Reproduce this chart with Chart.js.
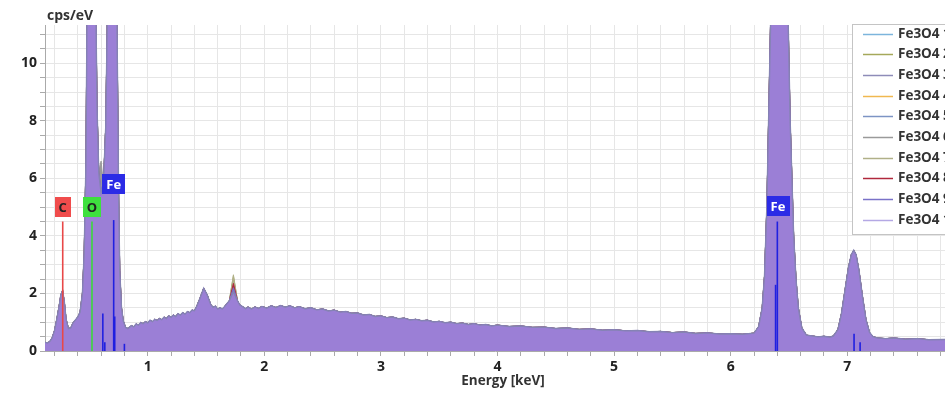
<!DOCTYPE html>
<html>
<head>
<meta charset="utf-8">
<script src="https://cdn.jsdelivr.net/npm/chart.js@4"></script>
<style>
  html, body { margin: 0; padding: 0; background: #fff; overflow: hidden; }
  #wrap { position: relative; width: 945px; height: 395px; }
</style>
</head>
<body>
<div id="wrap"><canvas id="edsChart" width="945" height="395"></canvas></div>
<script>
'use strict';

// data

// purple spectrum (top layer), [energy keV, cps/eV]
const spectrum = [
  [0.119, 0.30], [0.14, 0.28], [0.16, 0.33], [0.18, 0.45], [0.20, 0.70], [0.22, 1.10],
  [0.24, 1.55], [0.255, 1.95], [0.27, 2.10], [0.285, 1.70], [0.30, 1.10], [0.32, 0.78],
  [0.34, 0.80], [0.36, 0.98], [0.38, 1.08], [0.40, 1.18], [0.42, 1.35], [0.44, 2.00],
  [0.455, 3.40], [0.47, 6.50], [0.48, 12], [0.555, 12], [0.565, 8.5], [0.58, 6.2],
  [0.60, 5.5], [0.62, 5.8], [0.64, 7.8], [0.655, 12], [0.735, 12], [0.75, 5.5],
  [0.76, 2.8], [0.775, 1.5], [0.79, 1.05], [0.81, 0.82], [0.83, 0.78], [0.86, 0.88],
  [0.88, 0.84], [0.90, 0.94], [0.92, 0.90], [0.94, 0.99], [0.96, 0.95], [0.98, 1.02],
  [1.00, 0.98], [1.02, 1.07], [1.04, 1.02], [1.06, 1.10], [1.08, 1.06], [1.10, 1.13],
  [1.12, 1.09], [1.14, 1.18], [1.16, 1.13], [1.18, 1.22], [1.20, 1.17], [1.22, 1.25],
  [1.24, 1.20], [1.26, 1.30], [1.28, 1.25], [1.30, 1.33], [1.32, 1.28], [1.34, 1.37],
  [1.36, 1.33], [1.38, 1.42], [1.40, 1.40], [1.42, 1.55], [1.45, 1.85], [1.48, 2.18],
  [1.51, 1.95], [1.54, 1.62], [1.56, 1.52], [1.58, 1.56], [1.60, 1.46], [1.62, 1.50],
  [1.64, 1.46], [1.66, 1.55], [1.70, 1.75], [1.735, 2.05], [1.77, 1.75], [1.79, 1.60],
  [1.81, 1.55], [1.84, 1.47], [1.86, 1.53], [1.89, 1.46], [1.92, 1.53], [1.95, 1.48],
  [1.98, 1.55], [2.02, 1.49], [2.06, 1.57], [2.1, 1.51], [2.14, 1.58], [2.18, 1.52],
  [2.22, 1.57], [2.26, 1.50], [2.3, 1.54], [2.35, 1.47], [2.4, 1.50], [2.45, 1.43],
  [2.5, 1.46], [2.55, 1.39], [2.6, 1.42], [2.65, 1.35], [2.7, 1.37], [2.75, 1.31],
  [2.8, 1.32], [2.85, 1.25], [2.9, 1.27], [2.95, 1.20], [3.0, 1.22], [3.05, 1.16],
  [3.1, 1.18], [3.15, 1.12], [3.2, 1.14], [3.25, 1.08], [3.3, 1.10], [3.35, 1.05],
  [3.4, 1.07], [3.45, 1.01], [3.5, 1.03], [3.55, 0.98], [3.6, 1.00], [3.65, 0.95],
  [3.7, 0.97], [3.75, 0.92], [3.8, 0.95], [3.85, 0.90], [3.9, 0.92], [3.95, 0.87],
  [4.0, 0.90], [4.1, 0.85], [4.2, 0.87], [4.3, 0.82], [4.4, 0.83], [4.5, 0.78],
  [4.6, 0.80], [4.7, 0.75], [4.8, 0.77], [4.9, 0.72], [5.0, 0.74], [5.1, 0.70],
  [5.2, 0.71], [5.3, 0.67], [5.4, 0.68], [5.5, 0.64], [5.6, 0.66], [5.7, 0.61],
  [5.8, 0.63], [5.9, 0.59], [6.0, 0.60], [6.1, 0.58], [6.2, 0.62],
  [6.24, 0.85], [6.27, 1.5], [6.29, 2.6], [6.31, 5.0], [6.33, 9.0], [6.345, 12],
  [6.49, 12], [6.51, 8.0], [6.54, 4.0], [6.56, 2.5], [6.58, 1.5], [6.61, 0.8],
  [6.65, 0.55], [6.7, 0.52], [6.75, 0.49], [6.8, 0.51], [6.85, 0.48], [6.88, 0.52],
  [6.92, 0.75], [6.95, 1.3], [6.98, 2.1], [7.01, 2.9], [7.035, 3.35], [7.055, 3.50],
  [7.075, 3.35], [7.10, 2.8], [7.13, 1.9], [7.16, 1.1], [7.19, 0.65], [7.22, 0.50],
  [7.26, 0.45], [7.33, 0.43], [7.4, 0.45], [7.5, 0.41], [7.6, 0.43], [7.7, 0.39],
  [7.838, 0.40]
];

// where the ten spectra differ from each other
const seriesNames = ['Fe3O4 1', 'Fe3O4 2', 'Fe3O4 3', 'Fe3O4 4', 'Fe3O4 5',
  'Fe3O4 6', 'Fe3O4 7', 'Fe3O4 8', 'Fe3O4 9', 'Fe3O4 10'];
const seriesColors = ['#7cb5dc', '#a5a85a', '#8e8cb8', '#f0b850', '#7d94c4',
  '#9a9a9a', '#b0b088', '#b0283c', '#7a72c8', '#9b80d8'];
const peak1735 = [2.45, 2.60, 2.30, 1.95, 2.25, 2.50, 2.65, 2.35, 2.20, 2.05];
const valley060 = [5.5, 5.6, 5.5, 5.7, 5.6, 6.6, 5.5, 5.5, 5.6, 5.5];

// element marker lines
const markerEnergy = [0.271, 0.522, 0.615, 0.632, 0.708, 0.717, 0.80, 6.385, 6.40, 7.058, 7.11];
const markerHeight = [4.5, 4.5, 1.3, 0.3, 4.55, 1.2, 0.25, 2.3, 4.5, 0.6, 0.3];
const markerColor = ['#e84848', '#3cd83c', '#2020e0', '#2020e0', '#2020e0', '#2020e0',
  '#2020e0', '#2020e0', '#2020e0', '#2020e0', '#2020e0'];

// element label boxes
const labelText = ['C', 'O', 'Fe', 'Fe'];
const labelEnergy = [0.271, 0.522, 0.708, 6.405];
const labelCps = [5.0, 5.0, 5.8, 5.03];
const labelBg = ['#f04c4c', '#3ee03e', '#2b2be6', '#2b2be6'];
const labelFg = ['#222', '#222', '#fff', '#fff'];

const xMin = 0.119;
const xMax = 7.838;
const yMax = 11.33;

// build datasets

function buildSeries(i) {
  return spectrum.map(function (p) {
    let v = p[1];
    if (p[0] === 1.735) v = peak1735[i];
    if (p[0] === 0.60) v = valley060[i];
    return { x: p[0], y: v };
  });
}

let datasets = [];
for (let i = 0; i < seriesNames.length; i++) {
  let top = i === seriesNames.length - 1;
  datasets.push({
    label: seriesNames[i],
    data: buildSeries(i),
    borderColor: top ? '#8583b4' : seriesColors[i],
    backgroundColor: top ? '#9b7fd6' : seriesColors[i],
    borderWidth: top ? 1.4 : 1,
    pointRadius: 0,
    tension: 0,
    fill: 'origin',
    order: top ? 1 : 20 - i
  });
}

for (let i = 0; i < markerEnergy.length; i++) {
  datasets.push({
    label: 'marker',
    data: [{ x: markerEnergy[i], y: 0 }, { x: markerEnergy[i], y: markerHeight[i] }],
    borderColor: markerColor[i],
    borderWidth: 1.6,
    pointRadius: 0,
    fill: false,
    order: 0
  });
}

const boldFont = { family: 'Open Sans', weight: 'bold', size: 14 };

const overlay = {
  id: 'overlay',
  afterDatasetsDraw(chart) {
    const ctx = chart.ctx;
    const x = chart.scales.x;
    const y = chart.scales.y;
    ctx.save();
    ctx.font = 'bold 13px "Open Sans"';
    ctx.textAlign = 'center';
    ctx.textBaseline = 'middle';
    for (let i = 0; i < labelText.length; i++) {
      let cx = x.getPixelForValue(labelEnergy[i]);
      let cy = y.getPixelForValue(labelCps[i]);
      let w = ctx.measureText(labelText[i]).width + 8;
      ctx.fillStyle = labelBg[i];
      ctx.fillRect(Math.round(cx - w / 2), Math.round(cy - 10), Math.round(w), 20);
      ctx.fillStyle = labelFg[i];
      ctx.fillText(labelText[i], cx, cy + 1);
    }
    ctx.restore();
  },
  afterDraw(chart) {
    const ctx = chart.ctx;
    ctx.save();
    // legend box
    ctx.fillStyle = '#fff';
    ctx.fillRect(853, 25, 100, 210);
    ctx.strokeStyle = '#c4c4c4';
    ctx.lineWidth = 1;
    ctx.strokeRect(852.5, 24.5, 100, 210);
    ctx.font = 'bold 13.5px "Open Sans"';
    ctx.textBaseline = 'middle';
    ctx.textAlign = 'left';
    for (let i = 0; i < seriesNames.length; i++) {
      let ry = Math.round(33.5 + i * 20.7) + 0.5;
      ctx.strokeStyle = i === seriesNames.length - 1 ? '#b4a8e4' : seriesColors[i];
      ctx.lineWidth = 1.5;
      ctx.beginPath();
      ctx.moveTo(863, ry);
      ctx.lineTo(893, ry);
      ctx.stroke();
      ctx.fillStyle = '#333';
      ctx.fillText(seriesNames[i], 898, ry);
    }
    // axis titles
    ctx.fillStyle = '#333';
    ctx.font = 'bold 14px "Open Sans"';
    ctx.fillText('cps/eV', 47, 16);
    ctx.textAlign = 'center';
    ctx.font = 'bold 13.5px "Open Sans"';
    ctx.fillText('Energy [keV]', 503, 381);
    ctx.restore();
  }
};

const config = {
  type: 'line',
  data: { datasets: datasets },
  options: {
    responsive: false,
    animation: false,
    layout: { padding: { top: 25, left: 0, right: 0, bottom: 0 } },
    plugins: {
      legend: { display: false },
      tooltip: { enabled: false }
    },
    scales: {
      x: {
        type: 'linear',
        min: xMin,
        max: xMax,
        afterFit(scale) { scale.height = 44; },
        grid: { color: '#e6e6e6', tickLength: 5, tickColor: '#aaa' },
        border: { color: '#aaa' },
        ticks: {
          stepSize: 0.2,
          includeBounds: false,
          autoSkip: false,
          maxRotation: 0,
          padding: 3,
          color: '#222',
          font: boldFont,
          callback: function (v) {
            return Math.abs(v - Math.round(v)) < 1e-6 ? String(Math.round(v)) : '';
          }
        }
      },
      y: {
        min: 0,
        max: yMax,
        afterFit(scale) { scale.width = 45; },
        grid: { color: '#e6e6e6', tickLength: 5, tickColor: '#aaa' },
        border: { color: '#aaa' },
        ticks: {
          stepSize: 0.5,
          includeBounds: false,
          autoSkip: false,
          padding: 3,
          color: '#222',
          font: boldFont,
          callback: function (v) {
            let r = Math.round(v);
            return Math.abs(v - r) < 1e-6 && r % 2 === 0 ? String(r) : '';
          }
        }
      }
    }
  },
  plugins: [overlay]
};

let chartCanvas = document.getElementById('edsChart');
const edsChart = new Chart(chartCanvas, config);
</script>
</body>
</html>
